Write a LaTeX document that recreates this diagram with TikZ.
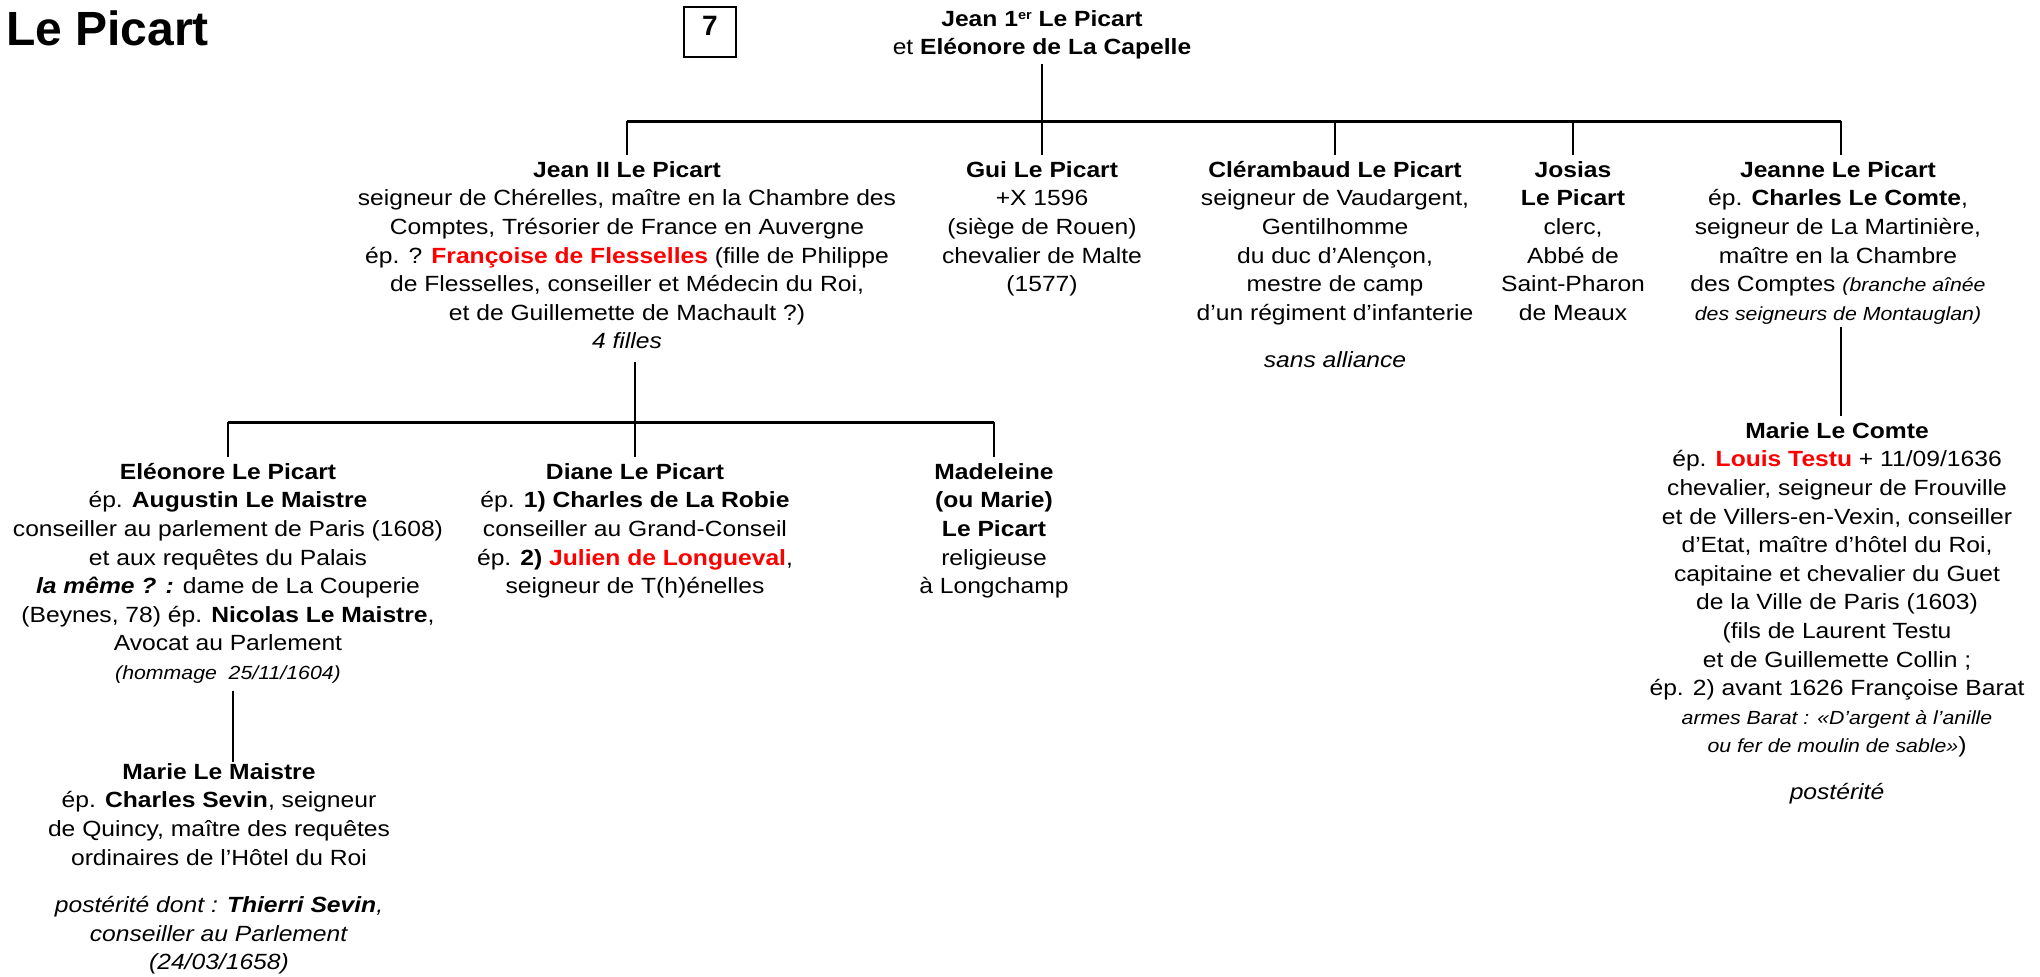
\documentclass[tikz,border=0pt]{standalone}
\usepackage{fontspec}
\setmainfont{Liberation Sans}[FakeStretch=1.12]
\newfontfamily\titlefont{Liberation Sans}
\definecolor{rouge}{RGB}{255,0,0}
\newcommand{\fsnorm}{\fontsize{22pt}{28.6pt}\selectfont}
\newcommand{\fssmall}{\fontsize{19pt}{26pt}\selectfont}
\newcommand{\firstln}{\rule{0pt}{22pt}}
\newcommand{\redbf}[1]{\textcolor{rouge}{\textbf{#1}}}
\newcommand{\supr}[1]{\raisebox{7pt}{\fontsize{13pt}{13pt}\selectfont #1}}
\tikzset{
  person/.style={inner sep=0pt, align=center, anchor=north, font=\fsnorm},
  barline/.style={line width=3pt},
  vline/.style={line width=2pt}
}
\begin{document}
\begin{tikzpicture}[x=1pt,y=-1pt]
\fill[white] (0,0) rectangle (2040,977);
\useasboundingbox (0,0) rectangle (2040,977);

\node[anchor=base west, inner sep=0pt, font=\titlefont\fontsize{48pt}{50pt}\selectfont\bfseries] (title) at (6,45) {Le Picart};
\node[draw, line width=1.5pt, anchor=base, inner ysep=0pt, text height=28pt, text depth=22pt, minimum width=52pt, font=\titlefont\fontsize{28pt}{30pt}\selectfont\bfseries] (num) at (710,35) {7};

\node[person] (root) at (1042,4) {\firstln\textbf{Jean 1\supr{er} Le Picart}\\ et \textbf{Eléonore de La Capelle}};

\node[person] (jean2) at (627,155) {\firstln\textbf{Jean II Le Picart}\\
seigneur de Chérelles, maître en la Chambre des\\
Comptes, Trésorier de France en Auvergne\\
ép. ? \redbf{Françoise de Flesselles} (fille de Philippe\\
de Flesselles, conseiller et Médecin du Roi,\\
et de Guillemette de Machault ?)\\
\textit{4 filles}};

\node[person] (gui) at (1042,155) {\firstln\textbf{Gui Le Picart}\\ +X 1596\\ (siège de Rouen)\\ chevalier de Malte\\ (1577)};

\node[person] (cleramb) at (1335,155) {\firstln\textbf{Clérambaud Le Picart}\\ seigneur de Vaudargent,\\ Gentilhomme\\ du duc d’Alençon,\\ mestre de camp\\ d’un régiment d’infanterie\\[19pt] \textit{sans alliance}};

\node[person] (josias) at (1573,155) {\firstln\textbf{Josias}\\ \textbf{Le Picart}\\ clerc,\\ Abbé de\\ Saint-Pharon\\ de Meaux};

\node[person] (jeanne) at (1838,155) {\firstln\textbf{Jeanne Le Picart}\\ ép. \textbf{Charles Le Comte},\\ seigneur de La Martinière,\\ maître en la Chambre\\ des Comptes {\fssmall\itshape (branche aînée}\\ {\fssmall\itshape des seigneurs de Montauglan)}};

\node[person] (eleonore) at (228,457) {\firstln\textbf{Eléonore Le Picart}\\ ép. \textbf{Augustin Le Maistre}\\ conseiller au parlement de Paris (1608)\\ et aux requêtes du Palais\\ \textbf{\textit{la même ? :}} dame de La Couperie\\ (Beynes, 78) ép. \textbf{Nicolas Le Maistre},\\ Avocat au Parlement\\ {\fssmall\itshape (hommage~ 25/11/1604)}};

\node[person] (diane) at (635,457) {\firstln\textbf{Diane Le Picart}\\ ép. \textbf{1) Charles de La Robie}\\ conseiller au Grand-Conseil\\ ép. \textbf{2)} \redbf{Julien de Longueval},\\ seigneur de T(h)énelles};

\node[person] (madeleine) at (994,457) {\firstln\textbf{Madeleine}\\ \textbf{(ou Marie)}\\ \textbf{Le Picart}\\ religieuse\\ à Longchamp};

\node[person] (mariem) at (219,757) {\firstln\textbf{Marie Le Maistre}\\ ép. \textbf{Charles Sevin}, seigneur\\ de Quincy, maître des requêtes\\ ordinaires de l’Hôtel du Roi\\[19pt] \textit{postérité dont : \textbf{Thierri Sevin},}\\ \textit{conseiller au Parlement}\\ \textit{(24/03/1658)}};

\node[person] (mariec) at (1837,416) {\firstln\textbf{Marie Le Comte}\\ ép. \redbf{Louis Testu} + 11/09/1636\\ chevalier, seigneur de Frouville\\ et de Villers-en-Vexin, conseiller\\ d’Etat, maître d’hôtel du Roi,\\ capitaine et chevalier du Guet\\ de la Ville de Paris (1603)\\ (fils de Laurent Testu\\ et de Guillemette Collin ;\\ ép. 2) avant 1626 Françoise Barat\\ {\fssmall\itshape armes Barat : «D’argent à l’anille}\\ {\fssmall\itshape ou fer de moulin de sable»})\\[18pt] \textit{postérité}};

\coordinate (bar1y) at (0,121);
\coordinate (bar2y) at (0,422);

\draw[vline, shorten <=4pt] (root.south) -- (gui.north);
\draw[vline] (jean2.north) -- (jean2.north |- bar1y);
\draw[vline] (cleramb.north) -- (cleramb.north |- bar1y);
\draw[vline] (josias.north) -- (josias.north |- bar1y);
\draw[vline] ([xshift=3pt]jeanne.north) -- ([xshift=3pt]jeanne.north |- bar1y);
\draw[barline] (jean2.north |- bar1y) -- ([xshift=3pt]jeanne.north |- bar1y);

\draw[vline, shorten <=13pt] (jean2.south -| diane.north) -- (diane.north);
\draw[vline] (eleonore.north) -- (eleonore.north |- bar2y);
\draw[vline] (madeleine.north) -- (madeleine.north |- bar2y);
\draw[barline] (eleonore.north |- bar2y) -- (madeleine.north |- bar2y);

\draw[vline, shorten <=7pt, shorten >=-5pt] ([xshift=5pt]eleonore.south) -- ([xshift=5pt]eleonore.south |- mariem.north);
\draw[vline, shorten <=3pt] ([xshift=3pt]jeanne.south) -- ([xshift=3pt]jeanne.south |- mariec.north);
\end{tikzpicture}
\end{document}
